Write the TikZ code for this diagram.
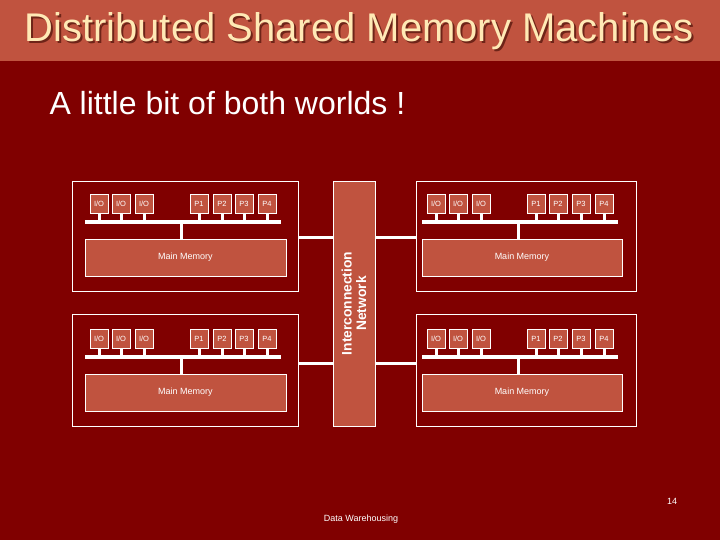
\documentclass[tikz,border=0pt]{standalone}
\usepackage{fontspec}
\setmainfont{Liberation Sans}
\definecolor{bgred}{HTML}{800000}
\definecolor{boxred}{HTML}{C0533F}
\definecolor{titlecream}{HTML}{FFE9B5}
\definecolor{shadowred}{HTML}{6E2418}
\tikzset{
  unitbox/.style={draw=white,line width=0.7pt,fill=boxred,inner sep=0pt,
    minimum width=18pt,minimum height=19pt,text=white,
    font=\fontsize{7.5}{8}\selectfont},
  membox/.style={draw=white,line width=0.8pt,fill=boxred,inner sep=0pt,
    minimum height=37pt,text=white,font=\fontsize{9}{10}\selectfont},
  panelbox/.style={draw=white,line width=0.8pt,inner sep=0pt},
  bus/.style={white,line width=4pt},
  stub/.style={white,line width=3pt},
  netlink/.style={white,line width=3pt},
}
\begin{document}
\begin{tikzpicture}[x=1pt,y=-1pt]
			\useasboundingbox (0,0) rectangle (720,540);
			\fill[bgred] (0,0) rectangle (720,540);
			\fill[boxred] (0,0) rectangle (720,61);
			% titles
			\node[text=shadowred,font=\fontsize{40}{44}\selectfont] at (361,33) {Distributed Shared Memory Machines};
			\node[text=titlecream,font=\fontsize{40}{44}\selectfont] (title) at (359,31) {Distributed Shared Memory Machines};
			\node[text=white,font=\fontsize{32}{36}\selectfont,anchor=west] (sub) at (46,103) {A little bit of both worlds !};
			% panels
			\node[panelbox,minimum width=226pt,minimum height=110pt] (tl) at (185,236) {};
			\node[panelbox,minimum width=226pt,minimum height=112pt] (bl) at (185,370) {};
			\node[panelbox,minimum width=220pt,minimum height=110pt] (tr) at (526,236) {};
			\node[panelbox,minimum width=220pt,minimum height=112pt] (br) at (526,370) {};
			% interconnection network
			\node[draw=white,line width=0.8pt,fill=boxred,minimum width=42pt,minimum height=245pt] (net) at (354,303.5) {};
			\node[rotate=90,text=white,align=center,font=\bfseries\fontsize{13.8}{14.5}\selectfont] (netlabel) at (354,303.5) {Interconnection\\Network};
			\coordinate (linkA) at (0,237);
			\coordinate (linkB) at (0,363);
			\draw[netlink] (tl.east |- linkA) -- (net.west |- linkA);
			\draw[netlink] (net.east |- linkA) -- (tr.west |- linkA);
			\draw[netlink] (bl.east |- linkB) -- (net.west |- linkB);
			\draw[netlink] (net.east |- linkB) -- (br.west |- linkB);
			% top left node
			\node[unitbox] (tlio1) at (99,204) {I/O};
			\node[unitbox] (tlio2) at (121,204) {I/O};
			\node[unitbox] (tlio3) at (144,204) {I/O};
			\node[unitbox] (tlp1) at (199,204) {P1};
			\node[unitbox] (tlp2) at (222,204) {P2};
			\node[unitbox] (tlp3) at (244,204) {P3};
			\node[unitbox] (tlp4) at (267,204) {P4};
			\node[membox,minimum width=201pt] (tlmem) at (185.5,257.5) {Main Memory};
			\coordinate (tlbusL) at (85,222);
			\coordinate (tlbusR) at (281,222);
			\coordinate (tlbusM) at (181,222);
			\draw[bus] (tlbusL) -- (tlbusR);
			\draw[stub] (tlbusM) -- (tlbusM |- tlmem.north);
			\draw[stub] (tlio1.south) -- (tlio1.south |- tlbusL);
			\draw[stub] (tlio2.south) -- (tlio2.south |- tlbusL);
			\draw[stub] (tlio3.south) -- (tlio3.south |- tlbusL);
			\draw[stub] (tlp1.south) -- (tlp1.south |- tlbusL);
			\draw[stub] (tlp2.south) -- (tlp2.south |- tlbusL);
			\draw[stub] (tlp3.south) -- (tlp3.south |- tlbusL);
			\draw[stub] (tlp4.south) -- (tlp4.south |- tlbusL);
			% bottom left node
			\node[unitbox] (blio1) at (99,339) {I/O};
			\node[unitbox] (blio2) at (121,339) {I/O};
			\node[unitbox] (blio3) at (144,339) {I/O};
			\node[unitbox] (blp1) at (199,339) {P1};
			\node[unitbox] (blp2) at (222,339) {P2};
			\node[unitbox] (blp3) at (244,339) {P3};
			\node[unitbox] (blp4) at (267,339) {P4};
			\node[membox,minimum width=201pt] (blmem) at (185.5,392.5) {Main Memory};
			\coordinate (blbusL) at (85,357);
			\coordinate (blbusR) at (281,357);
			\coordinate (blbusM) at (181,357);
			\draw[bus] (blbusL) -- (blbusR);
			\draw[stub] (blbusM) -- (blbusM |- blmem.north);
			\draw[stub] (blio1.south) -- (blio1.south |- blbusL);
			\draw[stub] (blio2.south) -- (blio2.south |- blbusL);
			\draw[stub] (blio3.south) -- (blio3.south |- blbusL);
			\draw[stub] (blp1.south) -- (blp1.south |- blbusL);
			\draw[stub] (blp2.south) -- (blp2.south |- blbusL);
			\draw[stub] (blp3.south) -- (blp3.south |- blbusL);
			\draw[stub] (blp4.south) -- (blp4.south |- blbusL);
			% top right node
			\node[unitbox] (trio1) at (436,204) {I/O};
			\node[unitbox] (trio2) at (458,204) {I/O};
			\node[unitbox] (trio3) at (481,204) {I/O};
			\node[unitbox] (trp1) at (536,204) {P1};
			\node[unitbox] (trp2) at (558,204) {P2};
			\node[unitbox] (trp3) at (581,204) {P3};
			\node[unitbox] (trp4) at (604,204) {P4};
			\node[membox,minimum width=200pt] (trmem) at (522,257.5) {Main Memory};
			\coordinate (trbusL) at (422,222);
			\coordinate (trbusR) at (618,222);
			\coordinate (trbusM) at (518,222);
			\draw[bus] (trbusL) -- (trbusR);
			\draw[stub] (trbusM) -- (trbusM |- trmem.north);
			\draw[stub] (trio1.south) -- (trio1.south |- trbusL);
			\draw[stub] (trio2.south) -- (trio2.south |- trbusL);
			\draw[stub] (trio3.south) -- (trio3.south |- trbusL);
			\draw[stub] (trp1.south) -- (trp1.south |- trbusL);
			\draw[stub] (trp2.south) -- (trp2.south |- trbusL);
			\draw[stub] (trp3.south) -- (trp3.south |- trbusL);
			\draw[stub] (trp4.south) -- (trp4.south |- trbusL);
			% bottom right node
			\node[unitbox] (brio1) at (436,339) {I/O};
			\node[unitbox] (brio2) at (458,339) {I/O};
			\node[unitbox] (brio3) at (481,339) {I/O};
			\node[unitbox] (brp1) at (536,339) {P1};
			\node[unitbox] (brp2) at (558,339) {P2};
			\node[unitbox] (brp3) at (581,339) {P3};
			\node[unitbox] (brp4) at (604,339) {P4};
			\node[membox,minimum width=200pt] (brmem) at (522,392.5) {Main Memory};
			\coordinate (brbusL) at (422,357);
			\coordinate (brbusR) at (618,357);
			\coordinate (brbusM) at (518,357);
			\draw[bus] (brbusL) -- (brbusR);
			\draw[stub] (brbusM) -- (brbusM |- brmem.north);
			\draw[stub] (brio1.south) -- (brio1.south |- brbusL);
			\draw[stub] (brio2.south) -- (brio2.south |- brbusL);
			\draw[stub] (brio3.south) -- (brio3.south |- brbusL);
			\draw[stub] (brp1.south) -- (brp1.south |- brbusL);
			\draw[stub] (brp2.south) -- (brp2.south |- brbusL);
			\draw[stub] (brp3.south) -- (brp3.south |- brbusL);
			\draw[stub] (brp4.south) -- (brp4.south |- brbusL);
			% footer
			\node[text=white,font=\fontsize{9}{10}\selectfont] (page) at (672,501) {14};
			\node[text=white,font=\fontsize{9}{10}\selectfont] (footer) at (361,519) {Data Warehousing};
\end{tikzpicture}
\end{document}
